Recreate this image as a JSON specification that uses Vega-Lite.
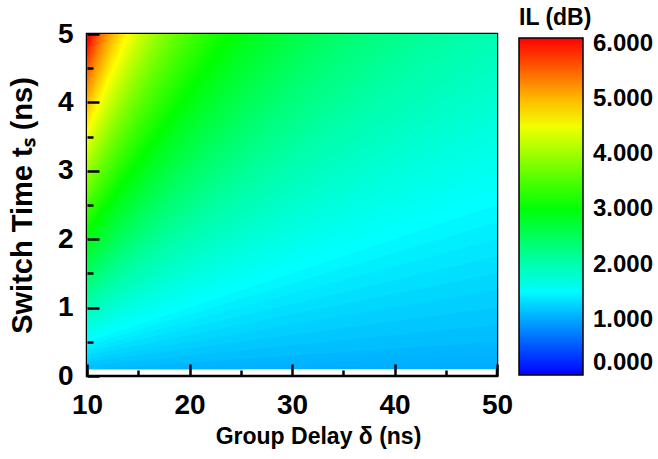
{
"$schema": "https://vega.github.io/schema/vega-lite/v6.json",
"width": 410, "height": 342,
"autosize": {"type": "none"},
"padding": {"left": 87, "top": 34, "right": 161, "bottom": 83},
"background": "white",
"layer": [
{
"data": {"values": [
{"k":0,"d":10,"t":0.1,"t2":0.1,"il":1.038},{"k":0,"d":16.67,"t":0.1,"t2":0.1,"il":1.038},{"k":0,"d":50,"t":0.1,"t2":0.3,"il":1.038},
{"k":1,"d":10,"t":0.1,"t2":0.1,"il":1.057},{"k":1,"d":12.5,"t":0.1,"t2":0.1,"il":1.057},{"k":1,"d":25,"t":0.1,"t2":0.2,"il":1.057},{"k":1,"d":50,"t":0.2,"t2":0.4,"il":1.057},
{"k":2,"d":10,"t":0.1,"t2":0.1,"il":1.076},{"k":2,"d":16.67,"t":0.1,"t2":0.1667,"il":1.076},{"k":2,"d":50,"t":0.3,"t2":0.5,"il":1.076},
{"k":3,"d":10,"t":0.1,"t2":0.15,"il":1.095},{"k":3,"d":12.5,"t":0.1,"t2":0.1875,"il":1.095},{"k":3,"d":50,"t":0.4,"t2":0.75,"il":1.095},
{"k":4,"d":10,"t":0.1,"t2":0.2,"il":1.143},{"k":4,"d":50,"t":0.5,"t2":1.0,"il":1.143},
{"k":5,"d":10,"t":0.15,"t2":0.25,"il":1.190},{"k":5,"d":50,"t":0.75,"t2":1.25,"il":1.190},
{"k":6,"d":10,"t":0.2,"t2":0.3,"il":1.238},{"k":6,"d":50,"t":1.0,"t2":1.5,"il":1.238},
{"k":7,"d":10,"t":0.25,"t2":0.35,"il":1.286},{"k":7,"d":50,"t":1.25,"t2":1.75,"il":1.286},
{"k":8,"d":10,"t":0.3,"t2":0.4,"il":1.334},{"k":8,"d":50,"t":1.5,"t2":2.0,"il":1.334},
{"k":9,"d":10,"t":0.35,"t2":0.45,"il":1.382},{"k":9,"d":50,"t":1.75,"t2":2.25,"il":1.382},
{"k":10,"d":10,"t":0.4,"t2":0.5,"il":1.430},{"k":10,"d":50,"t":2.0,"t2":2.5,"il":1.430},
{"k":11,"d":10,"t":0.45,"t2":0.55,"il":1.478},{"k":11,"d":50,"t":2.25,"t2":2.75,"il":1.478},
{"k":12,"d":10,"t":0.5,"t2":0.6,"il":1.526},{"k":12,"d":50,"t":2.5,"t2":3.0,"il":1.526},
{"k":13,"d":10,"t":0.55,"t2":0.65,"il":1.574},{"k":13,"d":50,"t":2.75,"t2":3.25,"il":1.574},
{"k":14,"d":10,"t":0.6,"t2":0.7,"il":1.623},{"k":14,"d":50,"t":3.0,"t2":3.5,"il":1.623},
{"k":15,"d":10,"t":0.65,"t2":0.75,"il":1.671},{"k":15,"d":50,"t":3.25,"t2":3.75,"il":1.671},
{"k":16,"d":10,"t":0.7,"t2":0.8,"il":1.719},{"k":16,"d":50,"t":3.5,"t2":4.0,"il":1.719},
{"k":17,"d":10,"t":0.75,"t2":0.85,"il":1.768},{"k":17,"d":50,"t":3.75,"t2":4.25,"il":1.768},
{"k":18,"d":10,"t":0.8,"t2":0.9,"il":1.816},{"k":18,"d":50,"t":4.0,"t2":4.5,"il":1.816},
{"k":19,"d":10,"t":0.85,"t2":0.95,"il":1.865},{"k":19,"d":50,"t":4.25,"t2":4.75,"il":1.865},
{"k":20,"d":10,"t":0.9,"t2":1.0,"il":1.913},{"k":20,"d":50,"t":4.5,"t2":5.0,"il":1.913},
{"k":21,"d":10,"t":0.95,"t2":1.05,"il":1.962},{"k":21,"d":50,"t":4.75,"t2":5.25,"il":1.962},
{"k":22,"d":10,"t":1.0,"t2":1.1,"il":2.011},{"k":22,"d":50,"t":5.0,"t2":5.5,"il":2.011},
{"k":23,"d":10,"t":1.05,"t2":1.15,"il":2.060},{"k":23,"d":50,"t":5.25,"t2":5.75,"il":2.060},
{"k":24,"d":10,"t":1.1,"t2":1.2,"il":2.108},{"k":24,"d":50,"t":5.5,"t2":6.0,"il":2.108},
{"k":25,"d":10,"t":1.15,"t2":1.25,"il":2.157},{"k":25,"d":50,"t":5.75,"t2":6.25,"il":2.157},
{"k":26,"d":10,"t":1.2,"t2":1.3,"il":2.206},{"k":26,"d":50,"t":6.0,"t2":6.5,"il":2.206},
{"k":27,"d":10,"t":1.25,"t2":1.35,"il":2.255},{"k":27,"d":50,"t":6.25,"t2":6.75,"il":2.255},
{"k":28,"d":10,"t":1.3,"t2":1.4,"il":2.304},{"k":28,"d":50,"t":6.5,"t2":7.0,"il":2.304},
{"k":29,"d":10,"t":1.35,"t2":1.45,"il":2.354},{"k":29,"d":50,"t":6.75,"t2":7.25,"il":2.354},
{"k":30,"d":10,"t":1.4,"t2":1.5,"il":2.403},{"k":30,"d":50,"t":7.0,"t2":7.5,"il":2.403},
{"k":31,"d":10,"t":1.45,"t2":1.55,"il":2.452},{"k":31,"d":50,"t":7.25,"t2":7.75,"il":2.452},
{"k":32,"d":10,"t":1.5,"t2":1.6,"il":2.501},{"k":32,"d":50,"t":7.5,"t2":8.0,"il":2.501},
{"k":33,"d":10,"t":1.55,"t2":1.65,"il":2.551},{"k":33,"d":50,"t":7.75,"t2":8.25,"il":2.551},
{"k":34,"d":10,"t":1.6,"t2":1.7,"il":2.600},{"k":34,"d":50,"t":8.0,"t2":8.5,"il":2.600},
{"k":35,"d":10,"t":1.65,"t2":1.75,"il":2.650},{"k":35,"d":50,"t":8.25,"t2":8.75,"il":2.650},
{"k":36,"d":10,"t":1.7,"t2":1.8,"il":2.699},{"k":36,"d":50,"t":8.5,"t2":9.0,"il":2.699},
{"k":37,"d":10,"t":1.75,"t2":1.85,"il":2.749},{"k":37,"d":50,"t":8.75,"t2":9.25,"il":2.749},
{"k":38,"d":10,"t":1.8,"t2":1.9,"il":2.799},{"k":38,"d":50,"t":9.0,"t2":9.5,"il":2.799},
{"k":39,"d":10,"t":1.85,"t2":1.95,"il":2.848},{"k":39,"d":50,"t":9.25,"t2":9.75,"il":2.848},
{"k":40,"d":10,"t":1.9,"t2":2.0,"il":2.898},{"k":40,"d":50,"t":9.5,"t2":10.0,"il":2.898},
{"k":41,"d":10,"t":1.95,"t2":2.05,"il":2.948},{"k":41,"d":50,"t":9.75,"t2":10.25,"il":2.948},
{"k":42,"d":10,"t":2.0,"t2":2.1,"il":2.998},{"k":42,"d":50,"t":10.0,"t2":10.5,"il":2.998},
{"k":43,"d":10,"t":2.05,"t2":2.15,"il":3.048},{"k":43,"d":50,"t":10.25,"t2":10.75,"il":3.048},
{"k":44,"d":10,"t":2.1,"t2":2.2,"il":3.098},{"k":44,"d":50,"t":10.5,"t2":11.0,"il":3.098},
{"k":45,"d":10,"t":2.15,"t2":2.25,"il":3.148},{"k":45,"d":50,"t":10.75,"t2":11.25,"il":3.148},
{"k":46,"d":10,"t":2.2,"t2":2.3,"il":3.198},{"k":46,"d":50,"t":11.0,"t2":11.5,"il":3.198},
{"k":47,"d":10,"t":2.25,"t2":2.35,"il":3.248},{"k":47,"d":50,"t":11.25,"t2":11.75,"il":3.248},
{"k":48,"d":10,"t":2.3,"t2":2.4,"il":3.299},{"k":48,"d":50,"t":11.5,"t2":12.0,"il":3.299},
{"k":49,"d":10,"t":2.35,"t2":2.45,"il":3.349},{"k":49,"d":50,"t":11.75,"t2":12.25,"il":3.349},
{"k":50,"d":10,"t":2.4,"t2":2.5,"il":3.400},{"k":50,"d":50,"t":12.0,"t2":12.5,"il":3.400},
{"k":51,"d":10,"t":2.45,"t2":2.55,"il":3.450},{"k":51,"d":50,"t":12.25,"t2":12.75,"il":3.450},
{"k":52,"d":10,"t":2.5,"t2":2.6,"il":3.501},{"k":52,"d":50,"t":12.5,"t2":13.0,"il":3.501},
{"k":53,"d":10,"t":2.55,"t2":2.65,"il":3.551},{"k":53,"d":50,"t":12.75,"t2":13.25,"il":3.551},
{"k":54,"d":10,"t":2.6,"t2":2.7,"il":3.602},{"k":54,"d":50,"t":13.0,"t2":13.5,"il":3.602},
{"k":55,"d":10,"t":2.65,"t2":2.75,"il":3.652},{"k":55,"d":50,"t":13.25,"t2":13.75,"il":3.652},
{"k":56,"d":10,"t":2.7,"t2":2.8,"il":3.703},{"k":56,"d":50,"t":13.5,"t2":14.0,"il":3.703},
{"k":57,"d":10,"t":2.75,"t2":2.85,"il":3.754},{"k":57,"d":50,"t":13.75,"t2":14.25,"il":3.754},
{"k":58,"d":10,"t":2.8,"t2":2.9,"il":3.805},{"k":58,"d":50,"t":14.0,"t2":14.5,"il":3.805},
{"k":59,"d":10,"t":2.85,"t2":2.95,"il":3.856},{"k":59,"d":50,"t":14.25,"t2":14.75,"il":3.856},
{"k":60,"d":10,"t":2.9,"t2":3.0,"il":3.907},{"k":60,"d":50,"t":14.5,"t2":15.0,"il":3.907},
{"k":61,"d":10,"t":2.95,"t2":3.05,"il":3.958},{"k":61,"d":50,"t":14.75,"t2":15.25,"il":3.958},
{"k":62,"d":10,"t":3.0,"t2":3.1,"il":4.009},{"k":62,"d":50,"t":15.0,"t2":15.5,"il":4.009},
{"k":63,"d":10,"t":3.05,"t2":3.15,"il":4.060},{"k":63,"d":50,"t":15.25,"t2":15.75,"il":4.060},
{"k":64,"d":10,"t":3.1,"t2":3.2,"il":4.112},{"k":64,"d":50,"t":15.5,"t2":16.0,"il":4.112},
{"k":65,"d":10,"t":3.15,"t2":3.25,"il":4.163},{"k":65,"d":50,"t":15.75,"t2":16.25,"il":4.163},
{"k":66,"d":10,"t":3.2,"t2":3.3,"il":4.214},{"k":66,"d":50,"t":16.0,"t2":16.5,"il":4.214},
{"k":67,"d":10,"t":3.25,"t2":3.35,"il":4.266},{"k":67,"d":50,"t":16.25,"t2":16.75,"il":4.266},
{"k":68,"d":10,"t":3.3,"t2":3.4,"il":4.317},{"k":68,"d":50,"t":16.5,"t2":17.0,"il":4.317},
{"k":69,"d":10,"t":3.35,"t2":3.45,"il":4.369},{"k":69,"d":50,"t":16.75,"t2":17.25,"il":4.369},
{"k":70,"d":10,"t":3.4,"t2":3.5,"il":4.420},{"k":70,"d":50,"t":17.0,"t2":17.5,"il":4.420},
{"k":71,"d":10,"t":3.45,"t2":3.55,"il":4.472},{"k":71,"d":50,"t":17.25,"t2":17.75,"il":4.472},
{"k":72,"d":10,"t":3.5,"t2":3.6,"il":4.524},{"k":72,"d":50,"t":17.5,"t2":18.0,"il":4.524},
{"k":73,"d":10,"t":3.55,"t2":3.65,"il":4.576},{"k":73,"d":50,"t":17.75,"t2":18.25,"il":4.576},
{"k":74,"d":10,"t":3.6,"t2":3.7,"il":4.627},{"k":74,"d":50,"t":18.0,"t2":18.5,"il":4.627},
{"k":75,"d":10,"t":3.65,"t2":3.75,"il":4.679},{"k":75,"d":50,"t":18.25,"t2":18.75,"il":4.679},
{"k":76,"d":10,"t":3.7,"t2":3.8,"il":4.731},{"k":76,"d":50,"t":18.5,"t2":19.0,"il":4.731},
{"k":77,"d":10,"t":3.75,"t2":3.85,"il":4.783},{"k":77,"d":50,"t":18.75,"t2":19.25,"il":4.783},
{"k":78,"d":10,"t":3.8,"t2":3.9,"il":4.835},{"k":78,"d":50,"t":19.0,"t2":19.5,"il":4.835},
{"k":79,"d":10,"t":3.85,"t2":3.95,"il":4.888},{"k":79,"d":50,"t":19.25,"t2":19.75,"il":4.888},
{"k":80,"d":10,"t":3.9,"t2":4.0,"il":4.940},{"k":80,"d":50,"t":19.5,"t2":20.0,"il":4.940},
{"k":81,"d":10,"t":3.95,"t2":4.05,"il":4.992},{"k":81,"d":50,"t":19.75,"t2":20.25,"il":4.992},
{"k":82,"d":10,"t":4.0,"t2":4.1,"il":5.045},{"k":82,"d":50,"t":20.0,"t2":20.5,"il":5.045},
{"k":83,"d":10,"t":4.05,"t2":4.15,"il":5.099},{"k":83,"d":50,"t":20.25,"t2":20.75,"il":5.099},
{"k":84,"d":10,"t":4.1,"t2":4.2,"il":5.154},{"k":84,"d":50,"t":20.5,"t2":21.0,"il":5.154},
{"k":85,"d":10,"t":4.15,"t2":4.25,"il":5.210},{"k":85,"d":50,"t":20.75,"t2":21.25,"il":5.210},
{"k":86,"d":10,"t":4.2,"t2":4.3,"il":5.267},{"k":86,"d":50,"t":21.0,"t2":21.5,"il":5.267},
{"k":87,"d":10,"t":4.25,"t2":4.35,"il":5.325},{"k":87,"d":50,"t":21.25,"t2":21.75,"il":5.325},
{"k":88,"d":10,"t":4.3,"t2":4.4,"il":5.385},{"k":88,"d":50,"t":21.5,"t2":22.0,"il":5.385},
{"k":89,"d":10,"t":4.35,"t2":4.45,"il":5.444},{"k":89,"d":50,"t":21.75,"t2":22.25,"il":5.444},
{"k":90,"d":10,"t":4.4,"t2":4.5,"il":5.506},{"k":90,"d":50,"t":22.0,"t2":22.5,"il":5.506},
{"k":91,"d":10,"t":4.45,"t2":4.55,"il":5.568},{"k":91,"d":50,"t":22.25,"t2":22.75,"il":5.568},
{"k":92,"d":10,"t":4.5,"t2":4.6,"il":5.632},{"k":92,"d":50,"t":22.5,"t2":23.0,"il":5.632},
{"k":93,"d":10,"t":4.55,"t2":4.65,"il":5.696},{"k":93,"d":50,"t":22.75,"t2":23.25,"il":5.696},
{"k":94,"d":10,"t":4.6,"t2":4.7,"il":5.761},{"k":94,"d":50,"t":23.0,"t2":23.5,"il":5.761},
{"k":95,"d":10,"t":4.65,"t2":4.75,"il":5.828},{"k":95,"d":50,"t":23.25,"t2":23.75,"il":5.828},
{"k":96,"d":10,"t":4.7,"t2":4.8,"il":5.896},{"k":96,"d":50,"t":23.5,"t2":24.0,"il":5.896},
{"k":97,"d":10,"t":4.75,"t2":4.85,"il":5.964},{"k":97,"d":50,"t":23.75,"t2":24.25,"il":5.964},
{"k":98,"d":10,"t":4.8,"t2":4.9,"il":6.034},{"k":98,"d":50,"t":24.0,"t2":24.5,"il":6.034},
{"k":99,"d":10,"t":4.85,"t2":4.95,"il":6.1},{"k":99,"d":50,"t":24.25,"t2":24.75,"il":6.1},
{"k":100,"d":10,"t":4.9,"t2":5.0,"il":6.1},{"k":100,"d":50,"t":24.5,"t2":25.0,"il":6.1},
{"k":101,"d":10,"t":4.95,"t2":5.05,"il":6.1},{"k":101,"d":50,"t":24.75,"t2":25.25,"il":6.1}
]},
"mark": {"type": "area", "clip": true, "interpolate": "linear"},
"encoding": {
  "x": {"field": "d", "type": "quantitative",
    "scale": {"domain": [10, 50], "nice": false, "zero": false},
    "axis": {"orient": "bottom", "values": [10,20,30,40,50], "zindex": 1,
      "tickSize": -12, "tickWidth": 2.5, "tickColor": "black", "domain": false, "grid": false,
      "labelFontSize": 28, "labelFontWeight": "bold", "labelColor": "black", "labelPadding": 27,
      "labelFlush": false, "labelOverlap": false,
      "title": "Group Delay δ (ns)", "titleFontSize": 23, "titleFontWeight": "bold", "titleColor": "black",
      "titleX": 231, "titlePadding": 6}},
  "y": {"field": "t", "type": "quantitative", "stack": null,
    "scale": {"domain": [0, 5], "nice": false, "zero": false},
    "axis": {"orient": "left", "values": [0,1,2,3,4,5], "format": "d", "zindex": 1,
      "tickSize": -12, "tickWidth": 2.5, "tickColor": "black", "domain": false, "grid": false,
      "labelFontSize": 28, "labelFontWeight": "bold", "labelColor": "black", "labelPadding": 26,
      "labelFlush": false, "labelOverlap": false,
      "title": "Switch Time tₛ (ns)", "titleFontSize": 29, "titleFontWeight": "bold", "titleColor": "black",
      "titlePadding": 20}},
  "y2": {"field": "t2"},
  "detail": {"field": "k", "type": "nominal"},
  "color": {"field": "il", "type": "quantitative",
    "scale": {"domain": [0, 1.525, 3.05, 4.575, 6.1], "range": ["#0000ff", "#00ffff", "#00ff00", "#ffff00", "#ff0000"], "interpolate": "rgb", "clamp": true},
    "legend": {"orient": "none", "legendX": 432, "legendY": -27, "direction": "vertical",
      "gradientLength": 337, "gradientThickness": 64,
      "values": [0,1,2,3,4,5,6], "format": ".3f",
      "title": "IL (dB)", "titleFontSize": 23, "titleFontWeight": "bold", "titleColor": "black", "titlePadding": 8, "titleAnchor": "start",
      "labelFontSize": 24, "labelFontWeight": "bold", "labelColor": "black", "labelOffset": 10,
      "labelBaseline": "middle", "labelOverlap": false,
      "gradientStrokeColor": "black", "gradientStrokeWidth": 1.5, "padding": 0}}
}
},
{
"data": {"values": [{"d": 10, "t": 0}]},
"mark": {"type": "point", "opacity": 0},
"encoding": {
  "x": {"field": "d", "type": "quantitative",
    "scale": {"domain": [10, 50], "nice": false, "zero": false},
    "axis": {"orient": "bottom", "values": [15,25,35,45], "zindex": 1, "tickSize": -6, "tickWidth": 2.5, "tickColor": "black",
      "labels": false, "domain": false, "grid": false, "title": null}},
  "y": {"field": "t", "type": "quantitative",
    "scale": {"domain": [0, 5], "nice": false, "zero": false},
    "axis": {"orient": "left", "values": [0.5,1.5,2.5,3.5,4.5], "zindex": 1, "tickSize": -6, "tickWidth": 2.5, "tickColor": "black",
      "labels": false, "domain": false, "grid": false, "title": null}}
}
}
],
"resolve": {"axis": {"x": "independent", "y": "independent"}},
"config": {
  "font": "Liberation Sans",
  "view": {"stroke": "black", "strokeWidth": 2.5},
  "legend": {"padding": 0}
}
}
